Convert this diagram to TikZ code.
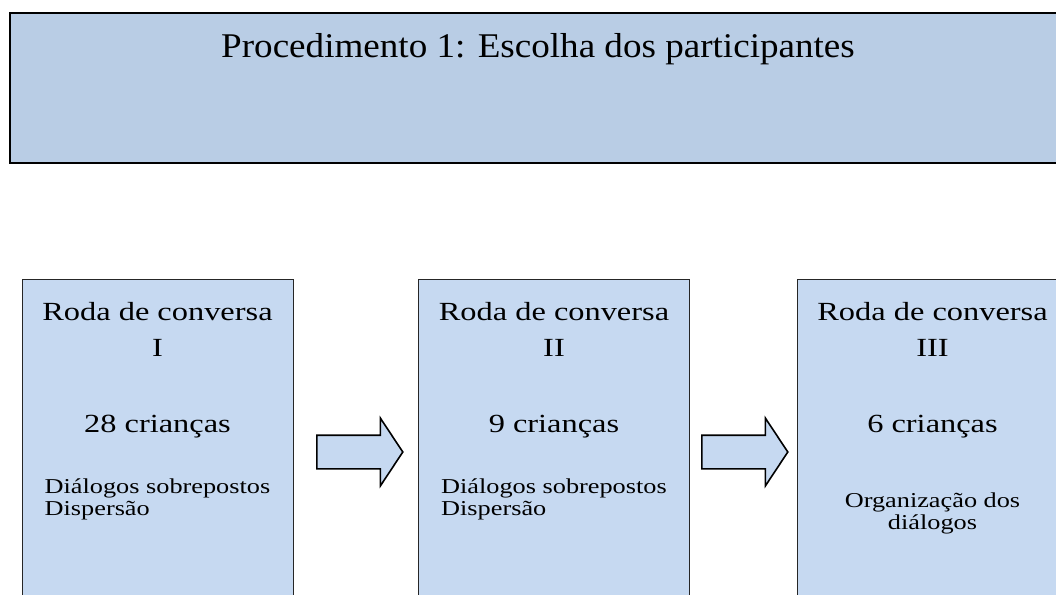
\documentclass[tikz,border=0pt]{standalone}
\usepackage{fontspec}
\setmainfont{Liberation Serif}
\newfontfamily\topfont[FakeStretch=1.07]{Liberation Serif}
\newfontfamily\boxfont[FakeStretch=1.24]{Liberation Serif}
\usetikzlibrary{shapes.arrows}
\definecolor{topblue}{RGB}{185,205,229}
\definecolor{boxblue}{RGB}{198,217,241}

\begin{document}
\begin{tikzpicture}[x=0.75pt,y=-0.75pt,
    procbox/.style={draw=black,line width=1.5pt,fill=topblue,minimum width=795pt,minimum height=112.5pt,anchor=north west,inner sep=0pt},
    stage/.style={draw=black!85,line width=1.1pt,fill=boxblue,minimum width=203.25pt,minimum height=255pt,anchor=north west,inner sep=0pt},
    big/.style={font=\boxfont\fontsize{19.6}{23}\selectfont,anchor=base,inner sep=0pt},
    small/.style={font=\boxfont\fontsize{15.9}{16.5}\selectfont,inner sep=0pt},
    blockarrow/.style={single arrow,draw=black,line width=1.2pt,fill=boxblue,inner xsep=0pt,inner ysep=12pt,minimum height=64.5pt,single arrow head extend=12.75pt,single arrow tip angle=113,anchor=tail}]
    \useasboundingbox (0,0) rectangle (1056,594);
    \clip (0,0) rectangle (1056,594);
    % procedure header
    \node[procbox] (proc) at (9,12) {};
    \node[font=\topfont\fontsize{26}{30}\selectfont,anchor=base,inner sep=0pt] (proctext) at (538,57) {Procedimento 1: Escolha dos participantes};
    % roda I
    \node[stage] (roda1) at (22,279) {};
    \node[big] (roda1a) at (157.5,320) {Roda de conversa};
    \node[big] (roda1b) at (157.5,356) {I};
    \node[big] (roda1c) at (157.5,432) {28 crianças};
    \node[small,anchor=base] (roda1d) at (157.5,493) {Diálogos sobrepostos};
    \node[small,anchor=base west] (roda1e) at ([yshift=-16.5pt]roda1d.base west) {Dispersão};
    % roda II
    \node[stage] (roda2) at (418,279) {};
    \node[big] (roda2a) at (554,320) {Roda de conversa};
    \node[big] (roda2b) at (554,356) {II};
    \node[big] (roda2c) at (554,432) {9 crianças};
    \node[small,anchor=base] (roda2d) at (554,493) {Diálogos sobrepostos};
    \node[small,anchor=base west] (roda2e) at ([yshift=-16.5pt]roda2d.base west) {Dispersão};
    % roda III
    \node[stage] (roda3) at (797,279) {};
    \node[big] (roda3a) at (932.5,320) {Roda de conversa};
    \node[big] (roda3b) at (932.5,356) {III};
    \node[big] (roda3c) at (932.5,432) {6 crianças};
    \node[small,anchor=base] (roda3d) at (932.5,507) {Organização dos};
    \node[small,anchor=base] (roda3e) at (932.5,529) {diálogos};
    % block arrows
    \node[blockarrow] (arr1) at (316,452) {};
    \node[blockarrow] (arr2) at (701,452) {};
\end{tikzpicture}
\end{document}
